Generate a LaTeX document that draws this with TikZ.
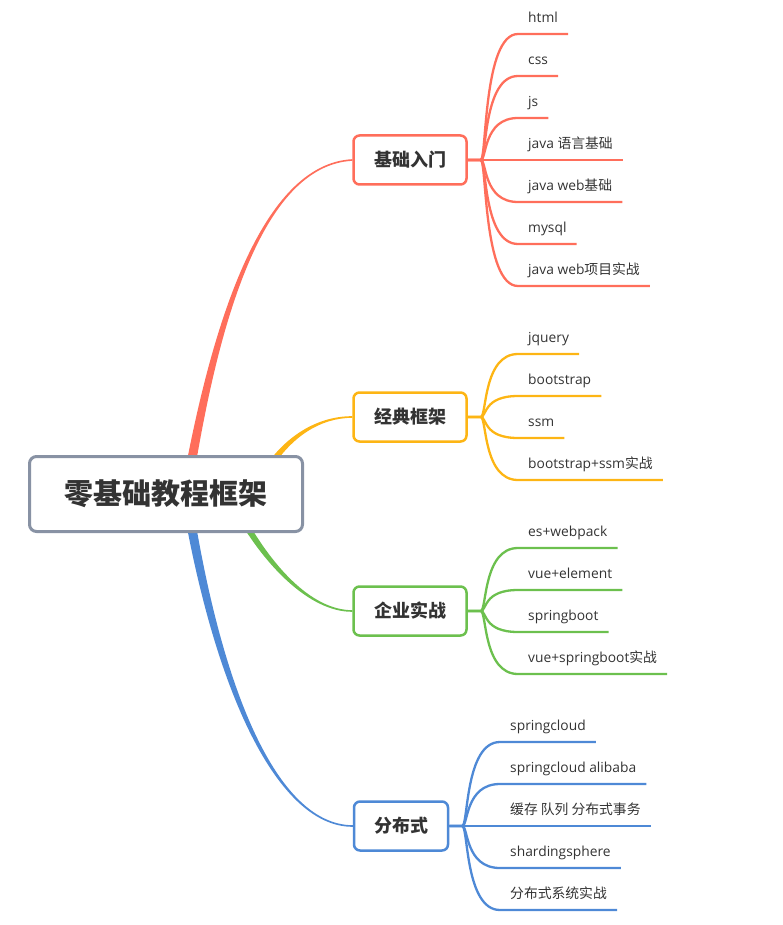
\documentclass[tikz,border=0pt]{standalone}
\usepackage{fontspec}
\setmainfont{Open Sans}
\newfontfamily\cjk{Noto Sans CJK SC}
\usepackage{tikz}
\usetikzlibrary{positioning, calc}

\definecolor{mapred}{HTML}{FF6E5B}
\definecolor{maporange}{HTML}{FDB514}
\definecolor{mapgreen}{HTML}{6CC04E}
\definecolor{mapblue}{HTML}{4E89D6}
\definecolor{mapgray}{HTML}{8892A4}
\definecolor{maptext}{HTML}{333333}

\tikzset{
	rootbox/.style={draw=mapgray, line width=3pt, rounded corners=7pt, fill=white, minimum width=273pt, minimum height=75pt, text=maptext, font=\cjk\fontsize{29}{34}\selectfont\bfseries},
	topic/.style={draw=#1, line width=2.5pt, rounded corners=6pt, fill=white, minimum height=49pt, minimum width=113pt, inner sep=0pt, text=maptext, font=\cjk\fontsize{18}{22}\selectfont\bfseries},
	leaf/.style={anchor=south west, inner xsep=10pt, inner ysep=7pt, text height=10pt, text depth=4pt, text=maptext, font=\fontsize{13.8}{16}\selectfont},
	twig/.style={draw=#1, line width=2.3pt},
}

\begin{document}
\begin{tikzpicture}[x=1pt, y=-1pt]
			\useasboundingbox	(0, 0) rectangle (782, 925);

			% topics
			\node	[topic=mapred]		(b1)	at	(410, 160)	{基础入门};
			\node	[topic=maporange]	(b2)	at	(410, 417)	{经典框架};
			\node	[topic=mapgreen]	(b3)	at	(410, 611)	{企业实战};
			\node	[topic=mapblue, minimum width=94pt]	(b4)	at	(401, 826)	{分布式};

			% main branches (start under the root box)
			\coordinate	(r1)	at	(190, 470);
			\coordinate	(r2)	at	(268, 468);
			\coordinate	(r3)	at	(240, 515);
			\coordinate	(r4)	at	(190, 518);
			\fill	[mapred]	($(r1)+(-4.8,0)$) .. controls (212, 329) and (260, 164) .. ($(b1.west)+(0,-0.8)$) -- ($(b1.west)+(0,0.8)$) .. controls (260, 166) and (218, 331) .. ($(r1)+(4.8,0)$) -- cycle;
			\fill	[maporange]	($(r2)+(-3.8,0)$) .. controls (287.5, 433.5) and (320, 416) .. ($(b2.west)+(0,-0.8)$) -- ($(b2.west)+(0,0.8)$) .. controls (320, 418) and (292.5, 436.5) .. ($(r2)+(3.8,0)$) -- cycle;
			\fill	[mapgreen]	($(r3)+(-3.8,0)$) .. controls (265.5, 566.5) and (310, 612) .. ($(b3.west)+(0,0.8)$) -- ($(b3.west)+(0,-0.8)$) .. controls (310, 610) and (270.5, 563.5) .. ($(r3)+(3.8,0)$) -- cycle;
			\fill	[mapblue]	($(r4)+(-4.8,0)$) .. controls (219, 701) and (280, 827) .. ($(b4.west)+(0,0.8)$) -- ($(b4.west)+(0,-0.8)$) .. controls (280, 825) and (225, 699) .. ($(r4)+(4.8,0)$) -- cycle;

			% fan points
			\coordinate	(fa)	at	([xshift=13pt]b1.east);
			\coordinate	(fb)	at	([xshift=13pt]b2.east);
			\coordinate	(fc)	at	([xshift=13pt]b3.east);
			\coordinate	(fd)	at	([xshift=13pt]b4.east);

			% leaves
			\node	[leaf]	(a1)	at	(518, 34)	{html};
			\node	[leaf]	(a2)	at	(518, 76)	{css};
			\node	[leaf]	(a3)	at	(518, 118)	{js};
			\node	[leaf]	(a4)	at	(518, 160)	{java {\cjk 语言基础}};
			\node	[leaf]	(a5)	at	(518, 202)	{java web{\cjk 基础}};
			\node	[leaf]	(a6)	at	(518, 244)	{mysql};
			\node	[leaf]	(a7)	at	(518, 286)	{java web{\cjk 项目实战}};

			\node	[leaf]	(c1)	at	(518, 354)	{jquery};
			\node	[leaf]	(c2)	at	(518, 396)	{bootstrap};
			\node	[leaf]	(c3)	at	(518, 438)	{ssm};
			\node	[leaf]	(c4)	at	(518, 480)	{bootstrap+ssm{\cjk 实战}};

			\node	[leaf]	(e1)	at	(518, 548)	{es+webpack};
			\node	[leaf]	(e2)	at	(518, 590)	{vue+element};
			\node	[leaf]	(e3)	at	(518, 632)	{springboot};
			\node	[leaf]	(e4)	at	(518, 674)	{vue+springboot{\cjk 实战}};

			\node	[leaf]	(d1)	at	(500, 742)	{springcloud};
			\node	[leaf]	(d2)	at	(500, 784)	{springcloud alibaba};
			\node	[leaf]	(d3)	at	(500, 826)	{\cjk 缓存 队列 分布式事务};
			\node	[leaf]	(d4)	at	(500, 868)	{shardingsphere};
			\node	[leaf]	(d5)	at	(500, 910)	{\cjk 分布式系统实战};

			\foreach \l in {a1, a2, a3, a4, a5, a6, a7}
				\draw	[twig=mapred]	(b1.east) -- (fa) .. controls +(6, 0) and +(-35, 0) .. (\l.south west) -- (\l.south east);
			\foreach \l in {c1, c2, c3, c4}
				\draw	[twig=maporange]	(b2.east) -- (fb) .. controls +(6, 0) and +(-35, 0) .. (\l.south west) -- (\l.south east);
			\foreach \l in {e1, e2, e3, e4}
				\draw	[twig=mapgreen]	(b3.east) -- (fc) .. controls +(6, 0) and +(-35, 0) .. (\l.south west) -- (\l.south east);
			\foreach \l in {d1, d2, d3, d4, d5}
				\draw	[twig=mapblue]	(b4.east) -- (fd) .. controls +(6, 0) and +(-35, 0) .. (\l.south west) -- (\l.south east);

			% root
			\node	[rootbox]	(root)	at	(166, 494)	{零基础教程框架};
\end{tikzpicture}
\end{document}
